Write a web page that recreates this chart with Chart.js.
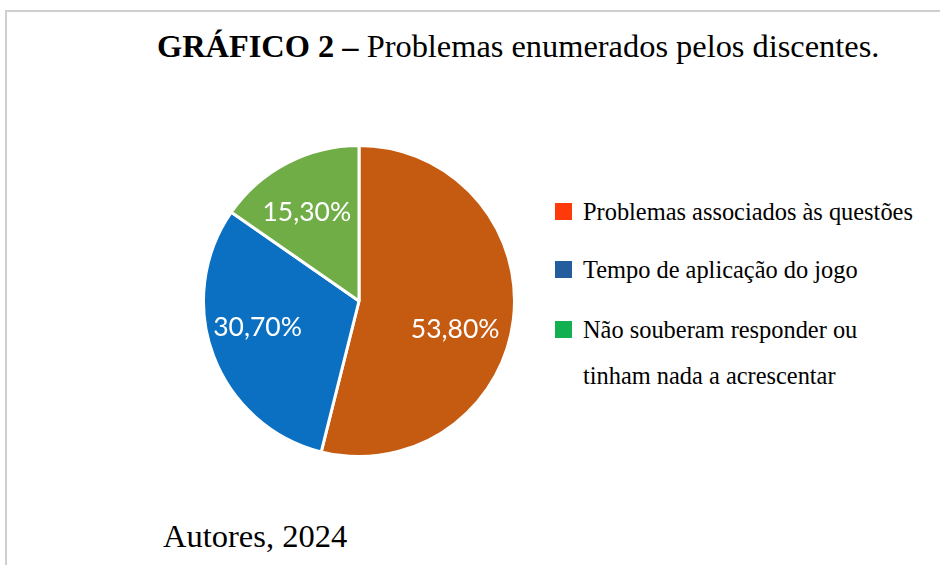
<!DOCTYPE html>
<html>
<head>
<meta charset="utf-8">
<script src="https://cdn.jsdelivr.net/npm/chart.js@4/dist/chart.umd.min.js"></script>
<style>
  html, body { margin: 0; padding: 0; background: #fff; }
  #page { position: relative; width: 940px; height: 565px; overflow: hidden; background: #fff; font-family: "Liberation Serif", "Times New Roman", serif; color: #000; }
  #frame { position: absolute; left: 5px; top: 10px; width: 960px; height: 600px; border-left: 2px solid #cfcfcf; border-top: 2px solid #cfcfcf; }
  #title { position: absolute; left: 157px; top: 30px; font-size: 32.4px; line-height: 32px; white-space: nowrap; }
  #title b { font-weight: bold; }
  #source { position: absolute; left: 163px; top: 520px; font-size: 32.5px; line-height: 33px; white-space: nowrap; }
  #chartBox { position: absolute; left: 202px; top: 144px; width: 314px; height: 314px; }
  .leg { position: absolute; left: 555px; font-size: 24.4px; line-height: 46px; white-space: nowrap; }
  .leg .sw { position: absolute; left: 0; width: 17px; height: 17px; }
  .leg .tx { position: absolute; left: 28px; top: 0; }
</style>
</head>
<body>
<div id="page">
  <div id="frame"></div>
  <div id="title"><b>GRÁFICO 2 –</b> Problemas enumerados pelos discentes.</div>
  <div id="chartBox"><canvas id="c"></canvas></div>
  <div id="legend"></div>
  <div id="source">Autores, 2024</div>
</div>
<script>
// ---- data ----
const categories = ["Problemas associados às questões", "Tempo de aplicação do jogo", "Não souberam responder ou tinham nada a acrescentar"];
const legendLines = [["Problemas associados às questões"], ["Tempo de aplicação do jogo"], ["Não souberam responder ou", "tinham nada a acrescentar"]];
const values = [53.8, 30.7, 15.3];
const valueLabels = ["53,80%", "30,70%", "15,30%"];
const sliceColors = ["#C55A11", "#0B70C1", "#70AD47"];
const legendColors = ["#FF3A0A", "#245D9E", "#12B050"];

// ---- legend (HTML) ----
const legendTops = [197, 255, 315];
const legendEl = document.getElementById('legend');
legendLines.forEach((lines, i) => {
  const d = document.createElement('div');
  d.className = 'leg';
  d.style.top = legendTops[i] + 'px';
  const sw = document.createElement('div');
  sw.className = 'sw';
  sw.style.background = legendColors[i];
  sw.style.top = '6px';
  d.appendChild(sw);
  const tx = document.createElement('div');
  tx.className = 'tx';
  tx.style.top = '-8px';
  tx.innerHTML = lines.join('<br>');
  d.appendChild(tx);
  legendEl.appendChild(d);
});

// ---- value labels plugin ----
const labelFactor = [0.645, 0.674, 0.663];
const labelAngleShift = [0.165, 0.105, -0.049];
const valueLabelPlugin = {
  id: 'valueLabels',
  afterDatasetsDraw(chart) {
    const ctx = chart.ctx;
    const meta = chart.getDatasetMeta(0);
    ctx.save();
    ctx.fillStyle = '#ffffff';
    ctx.font = '26.5px Lato, "Open Sans", sans-serif';
    ctx.textAlign = 'center';
    ctx.textBaseline = 'middle';
    meta.data.forEach((arc, i) => {
      const p = arc.getProps(['x', 'y', 'startAngle', 'endAngle', 'outerRadius'], true);
      const mid = (p.startAngle + p.endAngle) / 2 + labelAngleShift[i];
      const r = p.outerRadius * labelFactor[i];
      ctx.fillText(valueLabels[i], p.x + Math.cos(mid) * r, p.y + Math.sin(mid) * r);
    });
    ctx.restore();
  }
};

new Chart(document.getElementById('c'), {
  type: 'pie',
  data: {
    labels: categories,
    datasets: [{
      data: values,
      backgroundColor: sliceColors,
      borderColor: '#ffffff',
      borderWidth: 3,
      hoverOffset: 0
    }]
  },
  options: {
    responsive: true,
    maintainAspectRatio: false,
    animation: false,
    layout: { padding: 0 },
    plugins: {
      legend: { display: false },
      tooltip: { enabled: false },
      title: { display: false }
    }
  },
  plugins: [valueLabelPlugin]
});
</script>
</body>
</html>
